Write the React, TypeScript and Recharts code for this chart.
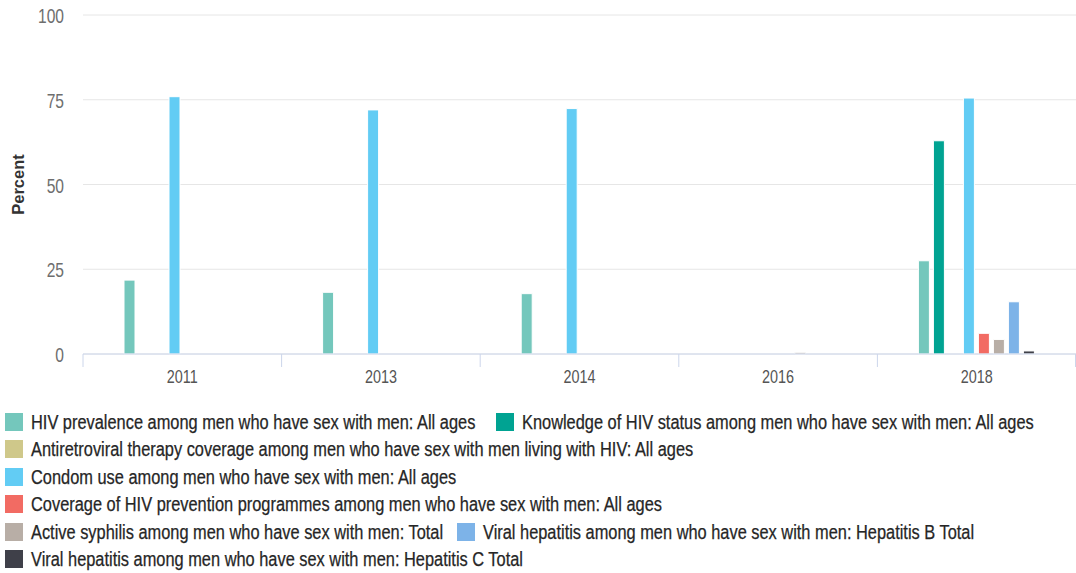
import React from 'react';
import { BarChart, Bar, XAxis, YAxis, CartesianGrid, Label } from 'recharts';

// Years on the x axis
const years = ['2011', '2013', '2014', '2016', '2018'];

// Series values (percent), null where no data
const hivPrevalence = [21.8, 18.2, 17.8, null, 27.5];
const hivKnowledge = [null, null, null, null, 62.9];
const artCoverage = [null, null, null, null, null];
const condomUse = [75.9, 72.0, 72.4, null, 75.5];
const preventionCoverage = [null, null, null, null, 6.1];
const activeSyphilis = [null, null, null, 0.5, 4.3];
const hepatitisB = [null, null, null, null, 15.4];
const hepatitisC = [null, null, null, null, 0.9];

const yTicks = [0, 25, 50, 75, 100];

const seriesList = [
  { key: 'hivPrev', name: 'HIV prevalence among men who have sex with men: All ages', values: hivPrevalence, color: '#74c7bc' },
  { key: 'knowledge', name: 'Knowledge of HIV status among men who have sex with men: All ages', values: hivKnowledge, color: '#00a392' },
  { key: 'art', name: 'Antiretroviral therapy coverage among men who have sex with men living with HIV: All ages', values: artCoverage, color: '#cfc88a' },
  { key: 'condom', name: 'Condom use among men who have sex with men: All ages', values: condomUse, color: '#62ccf4' },
  { key: 'coverage', name: 'Coverage of HIV prevention programmes among men who have sex with men: All ages', values: preventionCoverage, color: '#f26b63' },
  { key: 'syphilis', name: 'Active syphilis among men who have sex with men: Total', values: activeSyphilis, color: '#b8aea6' },
  { key: 'hepB', name: 'Viral hepatitis among men who have sex with men: Hepatitis B Total', values: hepatitisB, color: '#7db3e8' },
  { key: 'hepC', name: 'Viral hepatitis among men who have sex with men: Hepatitis C Total', values: hepatitisC, color: '#3f4049' },
];

// legend rows (series indexes) and where the second item of a row starts
const legendRows = [[0, 1], [2], [3], [4], [5, 6], [7]];
const secondItemLeft: Record<number, number> = { 0: 496, 4: 457 };

const data = years.map((year, i) => {
  const row: any = { year };
  seriesList.forEach((s) => {
    row[s.key] = s.values[i];
  });
  return row;
});

const CHART_W = 1076;
const PLOT_LEFT = 83;
const BAND = (CHART_W - PLOT_LEFT) / years.length;
const NARROW = 0.8; // squeeze Arial to look like the condensed face of the original

const XTick = (props: any) => {
  const { x, y, payload, index } = props;
  const left = x - BAND / 2;
  return (
    <g>
      <line x1={left} x2={left} y1={y} y2={y + 13} stroke="#ccd6eb" />
      {index === years.length - 1 && (
        <line x1={left + BAND - 0.5} x2={left + BAND - 0.5} y1={y} y2={y + 13} stroke="#ccd6eb" />
      )}
      <text
        transform={`translate(${x},${y + 29}) scale(${NARROW},1)`}
        textAnchor="middle"
        fill="#555"
        fontSize={18}
        fontFamily="'Liberation Sans', Arial, sans-serif"
      >
        {payload.value}
      </text>
    </g>
  );
};

const YTick = (props: any) => {
  const { x, y, payload } = props;
  return (
    <text
      transform={`translate(${x},${y + 8}) scale(0.78,1)`}
      textAnchor="end"
      fill="#6e6e6e"
      fontSize={20}
      fontFamily="'Liberation Sans', Arial, sans-serif"
    >
      {payload.value}
    </text>
  );
};

const LegendBlock = () => (
  <div style={{ position: 'absolute', left: 5, top: 410, width: 1070 }}>
    {legendRows.map((row, ri) => (
      <div key={ri} style={{ position: 'relative', height: 27.4 }}>
        {row.map((si, j) => {
          const s = seriesList[si];
          return (
            <div
              key={s.key}
              style={{
                position: 'absolute',
                left: j === 0 ? 0 : secondItemLeft[ri] - 5,
                top: 3,
                display: 'flex',
                alignItems: 'center',
                whiteSpace: 'nowrap',
              }}
            >
              <span style={{ display: 'inline-block', width: 18, height: 18, background: s.color, marginRight: 8 }} />
              <span
                style={{
                  display: 'inline-block',
                  fontFamily: "'Liberation Sans', Arial, sans-serif",
                  fontSize: 19.5,
                  color: '#262626',
                  lineHeight: '18px',
                  transform: 'scaleX(0.84)',
                  transformOrigin: 'left center',
                  WebkitTextStroke: '0.25px #262626',
                }}
              >
                {s.name}
              </span>
            </div>
          );
        })}
      </div>
    ))}
  </div>
);

const App: React.FC = () => {
  return (
    <div style={{ position: 'absolute', left: 0, top: 0, width: 1076, height: 573, background: '#fff', overflow: 'hidden' }}>
      <BarChart
        width={CHART_W}
        height={390}
        data={data}
        margin={{ top: 15, right: 0, left: 0, bottom: 6 }}
        barCategoryGap={41}
        barGap={4}
      >
        <CartesianGrid vertical={false} stroke="#e6e6e6" />
        <XAxis
          dataKey="year"
          height={30}
          axisLine={{ stroke: '#ccd6eb' }}
          tickLine={false}
          tickSize={0}
          tickMargin={0}
          tick={<XTick />}
          interval={0}
        />
        <YAxis
          width={PLOT_LEFT}
          domain={[0, 100]}
          ticks={yTicks}
          axisLine={false}
          tickLine={false}
          tickSize={0}
          tickMargin={19}
          tick={<YTick />}
        >
          <Label
            value="Percent"
            angle={-90}
            position="insideLeft"
            offset={18}
            style={{ fontWeight: 'bold', fontSize: 16.5, fill: '#333', fontFamily: "'Liberation Sans', Arial, sans-serif", textAnchor: 'middle' }}
          />
        </YAxis>
        {seriesList.map((s) => (
          <Bar
            key={s.key}
            dataKey={s.key}
            name={s.name}
            fill={s.color}
            stroke="#fff"
            strokeWidth={1}
            isAnimationActive={false}
          />
        ))}
      </BarChart>
      <LegendBlock />
    </div>
  );
};

export default App;
